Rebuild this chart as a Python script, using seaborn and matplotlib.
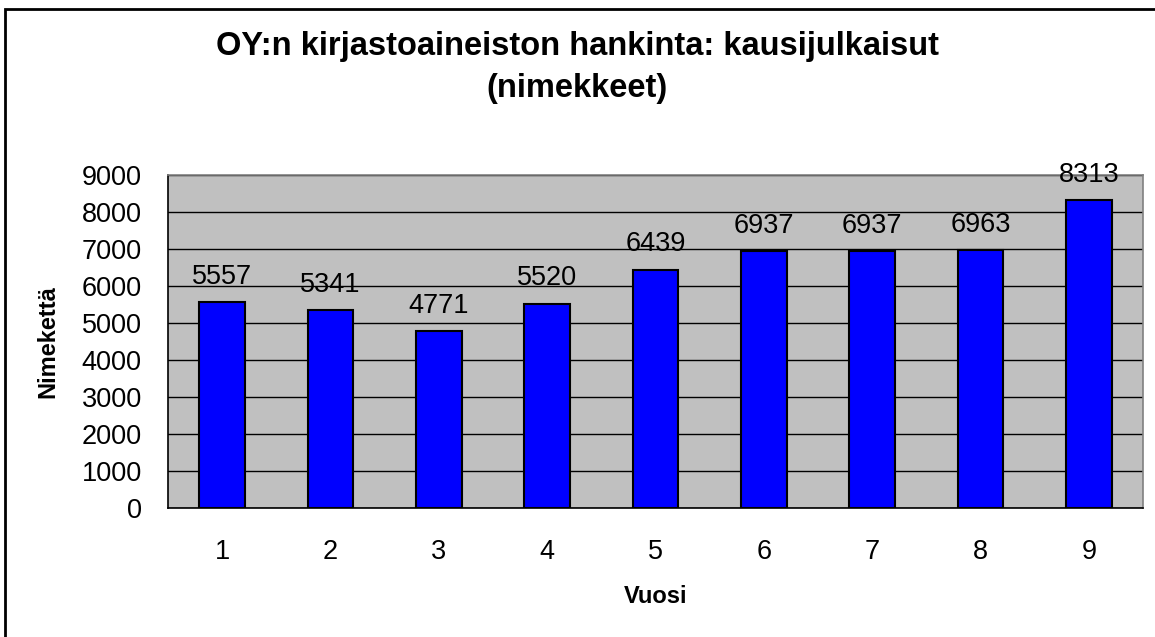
import numpy as np
import pandas as pd
import seaborn as sns
import matplotlib.pyplot as plt
from matplotlib.patches import Rectangle

# Data
years = ["1", "2", "3", "4", "5", "6", "7", "8", "9"]
titles = [5557, 5341, 4771, 5520, 6439, 6937, 6937, 6963, 8313]

df = pd.DataFrame({"Vuosi": years, "Nimekettä": titles})

sns.set_style("white")
plt.rcParams["font.family"] = ["Liberation Sans", "DejaVu Sans"]
plt.rcParams["text.color"] = "black"
plt.rcParams["axes.labelcolor"] = "black"
plt.rcParams["xtick.color"] = "black"
plt.rcParams["ytick.color"] = "black"

W, H = 1155, 637
fig = plt.figure(figsize=(W / 100, H / 100), dpi=100)
ax = fig.add_axes([0.1455, 0.2025, 0.8441, 0.5228])

sns.barplot(data=df, x="Vuosi", y="Nimekettä", color="#0000FF",
            edgecolor="black", linewidth=1.5, width=0.42, saturation=1, ax=ax)

ax.set_facecolor("#C0C0C0")
ax.set_ylim(0, 9000)
ax.set_xlim(-0.5, len(years) - 0.5)
ax.set_yticks(np.arange(0, 9001, 1000))
ax.yaxis.grid(True, color="black", linewidth=1)
ax.set_axisbelow(True)

# category labels centred, tick marks at category boundaries
ax.set_xticks(np.arange(len(years)))
ax.set_xticklabels(years)
ax.tick_params(axis="x", length=0, pad=22, labelsize=19.5)
ax.set_xticks(np.arange(-0.5, len(years)), minor=True)
ax.tick_params(axis="x", which="minor", length=8, width=1, direction="out")
ax.tick_params(axis="y", length=8, width=1, direction="out", labelsize=19.5, pad=11)

for side in ["top", "right"]:
    ax.spines[side].set_color("#808080")
    ax.spines[side].set_linewidth(1.2)
for side in ["left", "bottom"]:
    ax.spines[side].set_color("black")
    ax.spines[side].set_linewidth(1.2)

# value labels above bars
for i, v in enumerate(titles):
    ax.annotate(str(v), (i, v), xytext=(0, 9), textcoords="offset points",
                ha="center", va="bottom", fontsize=19.5, color="black")

ax.set_xlabel("Vuosi", fontsize=17, fontweight="bold", labelpad=15)
ax.set_ylabel("Nimekettä", fontsize=17, fontweight="bold", labelpad=16)

fig.text(0.5, 1 - 55 / H, "OY:n kirjastoaineiston hankinta: kausijulkaisut",
         ha="center", va="baseline", fontsize=23.5, fontweight="bold", color="black")
fig.text(0.5, 1 - 97 / H, "(nimekkeet)",
         ha="center", va="baseline", fontsize=23.5, fontweight="bold", color="black")

# outer chart border (right and bottom edges fall outside the picture)
fig.patches.append(Rectangle((5 / W, -0.1), 1.2, 1.1 - 9 / H, transform=fig.transFigure,
                             fill=False, edgecolor="black", linewidth=2))

fig.savefig("out.png", dpi=100)
